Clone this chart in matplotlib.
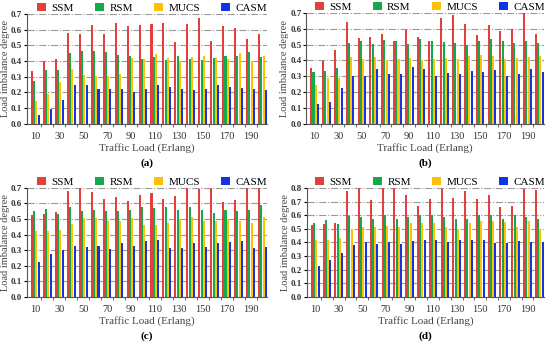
import matplotlib.pyplot as plt
import numpy as np

# data: traffic load 10..200 Erlang
loads = np.arange(10, 201, 10)
series = ['SSM', 'RSM', 'MUCS', 'CASM']
colors = ['#E2403F', '#14A94A', '#FFC107', '#1432E6']

a_ssm = [0.335, 0.40, 0.41, 0.58, 0.575, 0.63, 0.575, 0.645, 0.625, 0.63, 0.635, 0.645, 0.52, 0.635, 0.675, 0.53, 0.625, 0.61, 0.54, 0.575]
a_rsm = [0.275, 0.345, 0.34, 0.45, 0.465, 0.465, 0.455, 0.44, 0.43, 0.415, 0.425, 0.405, 0.435, 0.41, 0.405, 0.42, 0.43, 0.43, 0.455, 0.425]
a_mucs = [0.145, 0.19, 0.265, 0.35, 0.31, 0.305, 0.305, 0.32, 0.42, 0.41, 0.445, 0.42, 0.40, 0.425, 0.43, 0.42, 0.41, 0.45, 0.40, 0.435]
a_casm = [0.055, 0.095, 0.155, 0.245, 0.245, 0.225, 0.22, 0.225, 0.205, 0.22, 0.245, 0.235, 0.22, 0.215, 0.22, 0.25, 0.235, 0.23, 0.22, 0.215]

b_ssm = [0.355, 0.395, 0.465, 0.645, 0.54, 0.545, 0.565, 0.525, 0.595, 0.545, 0.52, 0.67, 0.685, 0.63, 0.56, 0.625, 0.585, 0.60, 0.70, 0.565]
b_rsm = [0.325, 0.335, 0.355, 0.51, 0.52, 0.505, 0.53, 0.52, 0.505, 0.535, 0.52, 0.515, 0.51, 0.50, 0.52, 0.535, 0.525, 0.51, 0.52, 0.51]
b_mucs = [0.245, 0.29, 0.29, 0.42, 0.41, 0.42, 0.40, 0.41, 0.415, 0.40, 0.41, 0.415, 0.41, 0.43, 0.435, 0.43, 0.41, 0.415, 0.42, 0.425]
b_casm = [0.125, 0.135, 0.225, 0.30, 0.305, 0.345, 0.315, 0.315, 0.36, 0.345, 0.305, 0.32, 0.315, 0.335, 0.33, 0.34, 0.30, 0.315, 0.345, 0.325]

c_ssm = [0.525, 0.535, 0.545, 0.68, 0.70, 0.675, 0.63, 0.64, 0.615, 0.655, 0.665, 0.63, 0.645, 0.70, 0.695, 0.70, 0.61, 0.62, 0.70, 0.70]
c_rsm = [0.55, 0.565, 0.535, 0.575, 0.55, 0.56, 0.55, 0.55, 0.555, 0.575, 0.57, 0.58, 0.56, 0.575, 0.56, 0.54, 0.555, 0.55, 0.555, 0.59]
c_mucs = [0.42, 0.425, 0.43, 0.465, 0.505, 0.505, 0.485, 0.49, 0.505, 0.46, 0.46, 0.475, 0.50, 0.51, 0.485, 0.485, 0.495, 0.485, 0.475, 0.51]
c_casm = [0.225, 0.275, 0.30, 0.325, 0.32, 0.325, 0.31, 0.345, 0.325, 0.36, 0.365, 0.315, 0.315, 0.345, 0.32, 0.345, 0.35, 0.36, 0.315, 0.32]

d_ssm = [0.525, 0.535, 0.545, 0.78, 0.80, 0.71, 0.80, 0.80, 0.745, 0.67, 0.72, 0.795, 0.725, 0.78, 0.72, 0.745, 0.66, 0.67, 0.795, 0.785]
d_rsm = [0.545, 0.565, 0.535, 0.595, 0.59, 0.575, 0.60, 0.575, 0.585, 0.60, 0.60, 0.585, 0.575, 0.57, 0.60, 0.60, 0.575, 0.60, 0.59, 0.575]
d_mucs = [0.42, 0.42, 0.43, 0.50, 0.51, 0.515, 0.52, 0.515, 0.545, 0.545, 0.545, 0.515, 0.50, 0.545, 0.555, 0.555, 0.55, 0.515, 0.555, 0.50]
d_casm = [0.225, 0.27, 0.325, 0.38, 0.40, 0.385, 0.40, 0.385, 0.41, 0.415, 0.415, 0.40, 0.415, 0.42, 0.415, 0.395, 0.395, 0.41, 0.40, 0.40]

panels = [
    ('(a)', [a_ssm, a_rsm, a_mucs, a_casm], 0.7),
    ('(b)', [b_ssm, b_rsm, b_mucs, b_casm], 0.7),
    ('(c)', [c_ssm, c_rsm, c_mucs, c_casm], 0.7),
    ('(d)', [d_ssm, d_rsm, d_mucs, d_casm], 0.8),
]

# axes boxes in figure fraction [left, bottom, width, height]
boxes = [
    [0.049, 0.644, 0.437, 0.316],
    [0.557, 0.644, 0.432, 0.319],
    [0.049, 0.147, 0.437, 0.313],
    [0.558, 0.147, 0.431, 0.313],
]
caption_y = [0.525, 0.525, 0.028, 0.028]

plt.rcParams['font.family'] = 'Liberation Serif'

fig = plt.figure(figsize=(5.5, 3.48), dpi=100)
x = np.arange(len(loads))
w = 0.19

for (tag, vals, ymax), box, cy in zip(panels, boxes, caption_y):
    ax = fig.add_axes(box)
    for i, (name, v, c) in enumerate(zip(series, vals, colors)):
        ax.bar(x + (i - 1.5) * w, v, w * 0.9, color=c, label=name, zorder=3)
    ax.set_xlim(-0.7, len(loads) - 0.6)
    ax.set_ylim(0, ymax)
    ticks = np.arange(0, ymax + 0.01, 0.1)
    ax.set_yticks(ticks)
    ax.set_yticklabels(['%.1f' % t for t in ticks], fontsize=6.5, fontweight='bold', color='#333333')
    ax.set_xticks(x[::2])
    ax.set_xticklabels([str(l) for l in loads[::2]], fontsize=7.5, color='#333333')
    ax.set_xticks(x[:-1] + 0.5, minor=True)
    ax.tick_params(axis='x', which='major', length=0, pad=6)
    ax.tick_params(axis='x', which='minor', length=2.5, direction='out', color='#555555')
    ax.tick_params(axis='y', length=2, pad=1.5)
    ax.grid(axis='y', linestyle='-.', color='#999999', linewidth=0.8, zorder=0)
    for s in ['top', 'right']:
        ax.spines[s].set_visible(False)
    for s in ['left', 'bottom']:
        ax.spines[s].set_color('#555555')
    ax.set_xlabel('Traffic Load (Erlang)', fontsize=8, color='#444444', labelpad=1)
    ax.set_ylabel('Load imbalance degree', fontsize=7.5, color='#444444')
    ax.yaxis.set_label_coords(-0.072, 0.5)
    ax.legend(loc='lower center', bbox_to_anchor=(0.52, 0.97), ncol=4, frameon=False,
              fontsize=8, handlelength=0.8, handleheight=0.8, columnspacing=1.9,
              handletextpad=0.5, borderaxespad=0)
    fig.text(box[0] + box[2] / 2, cy, tag, ha='center', fontsize=8, fontweight='bold')

fig.savefig('out.png', dpi=100)
